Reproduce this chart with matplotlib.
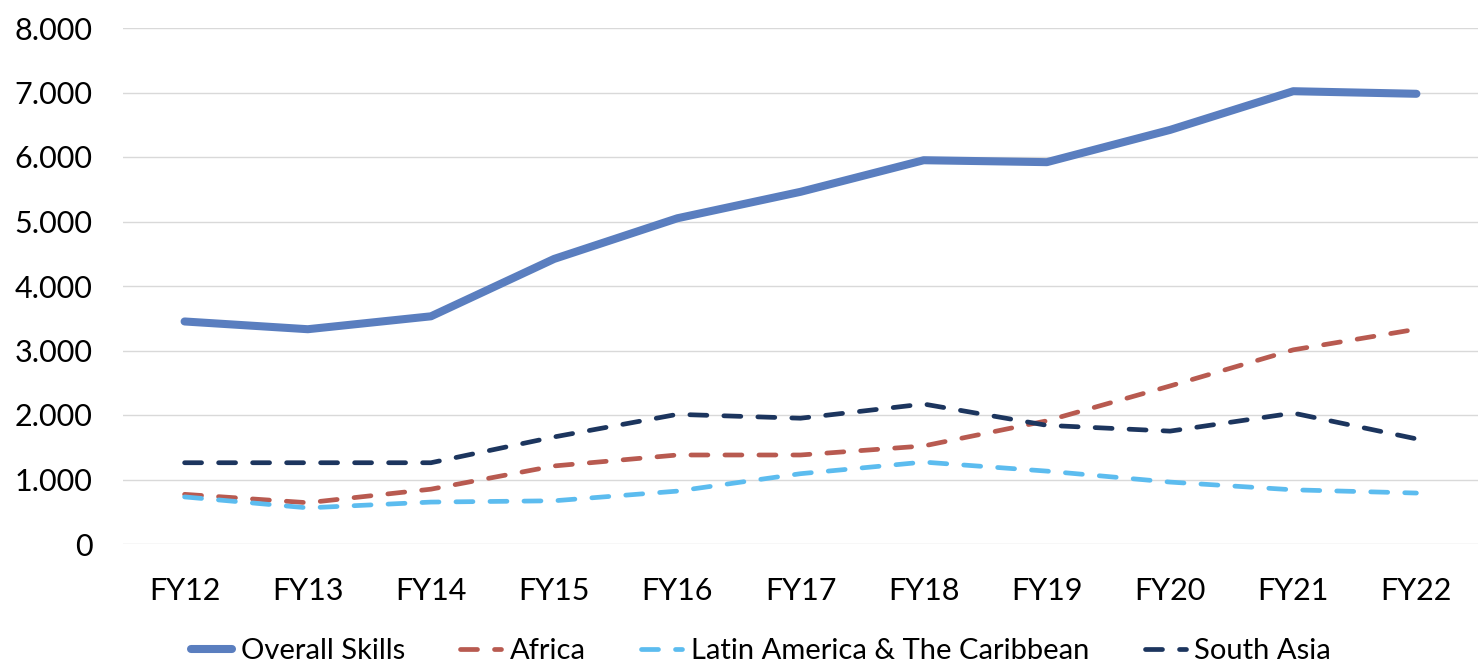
import matplotlib
matplotlib.use("Agg")
import matplotlib.pyplot as plt
from matplotlib.ticker import FuncFormatter

# Данные
years = ["FY12", "FY13", "FY14", "FY15", "FY16", "FY17", "FY18", "FY19", "FY20", "FY21", "FY22"]
overall = [3450, 3330, 3530, 4420, 5050, 5460, 5950, 5920, 6420, 7020, 6980]
africa = [770, 640, 850, 1210, 1380, 1380, 1520, 1910, 2450, 3010, 3330]
latam = [730, 560, 650, 670, 820, 1090, 1270, 1130, 960, 840, 790]
south_asia = [1260, 1260, 1260, 1660, 2010, 1950, 2170, 1840, 1750, 2030, 1630]

plt.rcParams['font.family'] = ['Lato', 'DejaVu Sans']

fig = plt.figure(figsize=(14.78, 6.64), dpi=100)
ax = fig.add_axes([123 / 1478, 120 / 664, 1355 / 1478, 516 / 664])

x = range(len(years))
ax.plot(x, overall, color='#5a7ebf', lw=5.8, solid_capstyle='round', label='Overall Skills')
dash = dict(lw=3.4, dash_capstyle='round', dashes=(3.6, 3.6))
ax.plot(x, africa, color='#b85a50', label='Africa', **dash)
ax.plot(x, latam, color='#5cbcef', label='Latin America & The Caribbean', **dash)
ax.plot(x, south_asia, color='#1c355e', label='South Asia', **dash)

ax.set_xlim(-0.5, len(years) - 0.5)
ax.set_ylim(0, 8000)
ax.set_yticks(range(0, 8001, 1000))
ax.yaxis.set_major_formatter(FuncFormatter(lambda v, p: f"{int(v):,}".replace(",", ".")))
ax.set_xticks(list(x))
ax.set_xticklabels(years)
ax.grid(axis='y', color='#d9d9d9', lw=1)
ax.set_axisbelow(True)
for s in ax.spines.values():
    s.set_visible(False)
ax.tick_params(axis='both', length=0, labelsize=22, colors='black')
ax.tick_params(axis='x', pad=24)
ax.tick_params(axis='y', pad=22)

ax.legend(loc='upper center', bbox_to_anchor=(0.471, -0.182), ncol=4, frameon=False,
          fontsize=21, handlelength=1.4, columnspacing=1.9, handletextpad=0.3,
          borderaxespad=0, borderpad=0)

fig.savefig("out.png", dpi=100)
